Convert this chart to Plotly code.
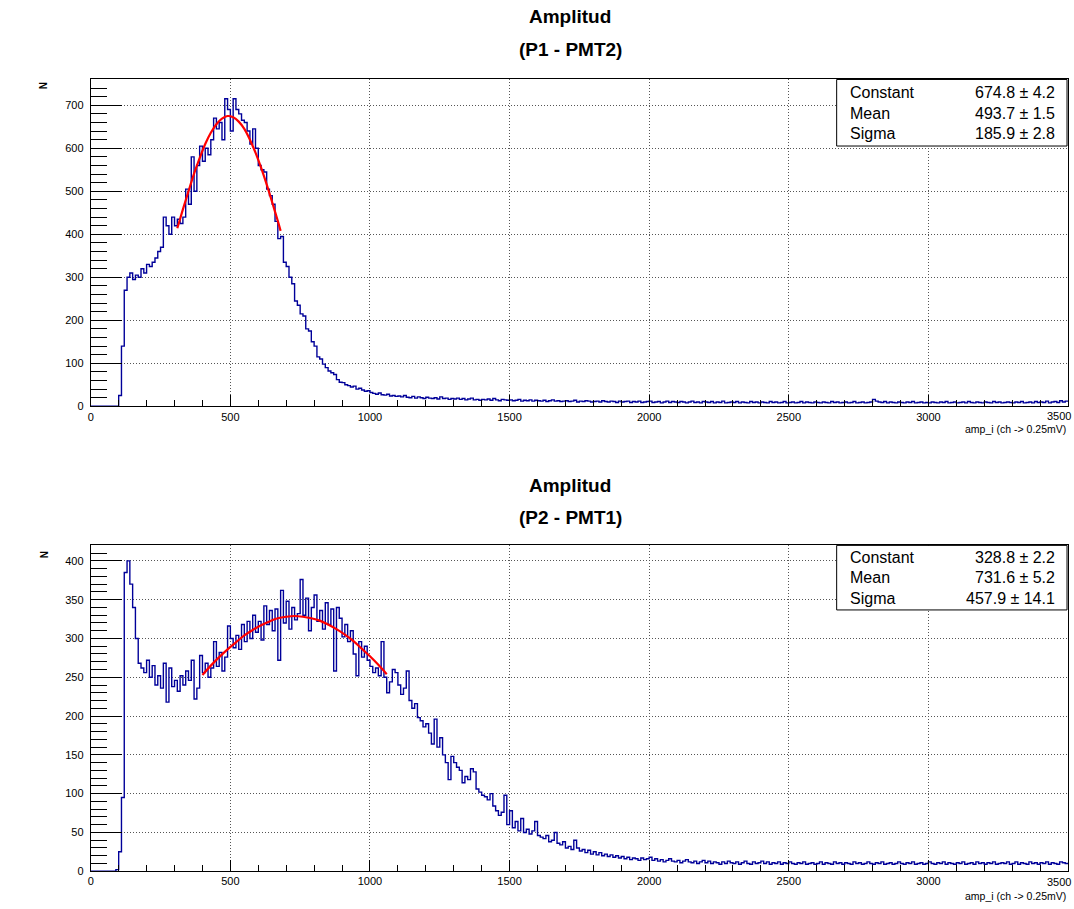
import numpy as np
import plotly.graph_objects as go

# ---------------- data ----------------
BIN_WIDTH = 10  # channels per bin, histograms start at channel 0

top_counts = [
    0, 0, 0, 0, 0, 0, 0, 0, 0, 0,
    25, 140, 270, 300, 310, 295, 305, 300, 320, 310,
    330, 325, 335, 345, 360, 370, 440, 420, 400, 440,
    420, 435, 425, 440, 505, 470, 580, 500, 560, 605,
    570, 600, 585, 620, 670, 645, 660, 620, 715, 690,
    640, 715, 690, 680, 665, 660, 640, 610, 645, 600,
    560, 550, 545, 505, 490, 470, 430, 390, 395, 335,
    325, 300, 285, 245, 235, 215, 210, 180, 175, 150,
    140, 115, 110, 98, 90, 82, 78, 74, 62, 56,
    55, 50, 48, 45, 47, 40, 42, 38, 35, 36,
    32, 30, 28, 31, 27, 26, 28, 24, 25, 23,
    24, 22, 25, 21, 20, 23, 19, 22, 20, 18,
    21, 19, 18, 20, 17, 22, 18, 19, 16, 18,
    17, 19, 16, 18, 15, 17, 19, 15, 16, 14,
    16, 15, 17, 14, 18, 15, 13, 16, 15, 14,
    15, 13, 14, 16, 12, 14, 13, 15, 12, 14,
    13, 12, 14, 11, 13, 15, 12, 13, 11, 12,
    13, 11, 12, 14, 10, 12, 11, 13, 12, 10,
    11, 12, 10, 13, 11, 10, 12, 11, 9, 12,
    10, 11, 12, 9, 11, 10, 12, 9, 10, 11,
    12, 9, 10, 11, 8, 10, 12, 9, 11, 10,
    9, 11, 10, 8, 10, 12, 9, 10, 8, 11,
    10, 9, 11, 8, 10, 9, 12, 8, 9, 10,
    9, 11, 8, 10, 9, 8, 11, 9, 10, 8,
    10, 9, 8, 11, 9, 10, 8, 9, 11, 8,
    9, 10, 8, 9, 11, 8, 10, 9, 8, 10,
    9, 8, 10, 9, 8, 11, 9, 10, 8, 9,
    10, 8, 9, 11, 8, 9, 10, 8, 9, 10,
    16, 12, 10, 9, 11, 8, 10, 9, 8, 10,
    9, 8, 10, 9, 11, 8, 9, 10, 8, 9,
    8, 10, 9, 8, 10, 9, 11, 8, 9, 10,
    8, 9, 10, 8, 11, 9, 8, 10, 9, 8,
    10, 9, 8, 11, 9, 10, 8, 9, 10, 9,
    8, 10, 9, 11, 8, 9, 10, 8, 11, 9,
    10, 9, 12, 8, 10, 11, 9, 13, 10, 12,
]

bottom_counts = [
    0, 0, 0, 0, 0, 0, 0, 0, 0, 2,
    25, 95, 385, 400, 370, 340, 300, 268, 262, 256,
    272, 250, 265, 240, 252, 236, 268, 218, 262, 238,
    246, 232, 252, 240, 258, 246, 272, 222, 236, 278,
    256, 268, 250, 262, 296, 264, 282, 258, 276, 316,
    300, 288, 304, 286, 318, 296, 322, 300, 330, 308,
    322, 298, 342, 318, 336, 310, 338, 272, 362, 320,
    348, 312, 340, 324, 332, 376, 330, 352, 310, 340,
    356, 322, 336, 312, 346, 318, 338, 258, 340, 326,
    302, 318, 296, 310, 280, 252, 296, 276, 290, 272,
    264, 256, 262, 252, 296, 250, 230, 244, 260, 256,
    240, 228, 236, 258, 220, 210, 216, 198, 194, 186,
    190, 178, 164, 196, 160, 172, 150, 140, 118, 148,
    140, 134, 130, 114, 122, 118, 132, 128, 106, 102,
    98, 96, 92, 100, 84, 78, 72, 76, 98, 60,
    78, 56, 64, 52, 68, 50, 54, 48, 52, 64,
    46, 44, 42, 46, 38, 40, 50, 36, 34, 38,
    30, 32, 28, 40, 30, 26, 28, 24, 27, 22,
    25, 21, 24, 20, 22, 19, 21, 18, 20, 17,
    19, 16, 18, 15, 17, 16, 14, 17, 15, 16,
    18, 14, 16, 13, 15, 12, 14, 16, 13, 12,
    14, 11, 13, 15, 12, 11, 13, 10, 12, 14,
    11, 13, 10, 12, 11, 9, 12, 10, 13, 11,
    10, 12, 9, 11, 13, 10, 9, 12, 10, 11,
    13, 10, 12, 9, 11, 10, 12, 9, 11, 10,
    12, 10, 9, 11, 10, 12, 9, 10, 11, 9,
    10, 12, 9, 11, 10, 9, 12, 10, 11, 9,
    11, 10, 9, 12, 10, 11, 9, 10, 12, 10,
    9, 11, 10, 12, 9, 10, 11, 9, 10, 12,
    10, 9, 11, 10, 12, 9, 10, 11, 9, 10,
    12, 10, 9, 11, 10, 12, 9, 11, 10, 9,
    11, 10, 12, 9, 10, 11, 9, 12, 10, 11,
    9, 11, 10, 12, 9, 10, 11, 10, 12, 9,
    10, 12, 9, 11, 10, 9, 12, 10, 11, 9,
    11, 10, 12, 9, 11, 10, 9, 12, 11, 10,
]

top_fit_x = [310, 330, 350, 370, 390, 410, 430, 450, 470, 490,
             510, 530, 550, 570, 590, 610, 630, 650, 670, 680]
top_fit_y = [414, 458, 500, 541, 577, 610, 636, 656, 669, 675,
             672, 662, 645, 620, 590, 555, 516, 474, 431, 408]

bot_fit_x = [400, 430, 460, 490, 520, 550, 580, 610, 640, 670, 700, 730,
             760, 790, 820, 850, 880, 910, 940, 970, 1000, 1030, 1060]
bot_fit_y = [253, 265, 276, 286, 295, 304, 311, 317, 322, 326, 328, 329,
             328, 326, 323, 318, 312, 305, 297, 287, 277, 266, 254]

x_ticks = [0, 500, 1000, 1500, 2000, 2500, 3000, 3500]

top_title = ["Amplitud", "(P1 - PMT2)"]
bot_title = ["Amplitud", "(P2 - PMT1)"]
x_title = "amp_i (ch -> 0.25mV)"
y_title = "N"

stats_labels = ["Constant", "Mean", "Sigma"]
top_stats = ["674.8 ± 4.2", "493.7 ± 1.5", "185.9 ± 2.8"]
bot_stats = ["328.8 ± 2.2", "731.6 ± 5.2", "457.9 ± 14.1"]

# ---------------- figure ----------------
W, H = 1074, 909
FONT = "Liberation Sans, Arial, Helvetica, sans-serif"
TITLE_FONT = "Liberation Sans, Arial, sans-serif"
HIST_COLOR = "rgb(0,0,153)"


def fx(p):
    return p / W


def fy(p):
    return 1 - p / H


def hist_xy(counts):
    edges = BIN_WIDTH * np.arange(len(counts) + 1)
    ys = list(counts) + [counts[-1]]
    return edges, ys


fig = go.Figure()

ex, ey = hist_xy(top_counts)
fig.add_trace(go.Scatter(x=ex, y=ey, mode="lines", line=dict(color=HIST_COLOR, width=1.4, shape="hv"),
                         xaxis="x", yaxis="y", showlegend=False, hoverinfo="skip"))
fig.add_trace(go.Scatter(x=top_fit_x, y=top_fit_y, mode="lines", line=dict(color="red", width=2.2, shape="spline"),
                         xaxis="x", yaxis="y", showlegend=False))

ex2, ey2 = hist_xy(bottom_counts)
fig.add_trace(go.Scatter(x=ex2, y=ey2, mode="lines", line=dict(color=HIST_COLOR, width=1.4, shape="hv"),
                         xaxis="x2", yaxis="y2", showlegend=False, hoverinfo="skip"))
fig.add_trace(go.Scatter(x=bot_fit_x, y=bot_fit_y, mode="lines", line=dict(color="red", width=2.2, shape="spline"),
                         xaxis="x2", yaxis="y2", showlegend=False))

common = dict(showline=True, linecolor="black", linewidth=1, mirror=True,
              ticks="inside", tickcolor="black", tickwidth=1,
              showgrid=True, gridcolor="#555555", griddash="1px,2px", gridwidth=1,
              zeroline=False, tickfont=dict(family=FONT, size=11, color="black"))

# last label (3500) is placed by hand, shifted left like in the reference
x_ticktext = [str(v) for v in x_ticks[:-1]] + [""]

xcommon = dict(common, range=[0, 3500], tickmode="array", tickvals=x_ticks,
               ticktext=x_ticktext, ticklen=11,
               minor=dict(dtick=100, tick0=0, ticklen=6, ticks="inside", tickcolor="black", showgrid=False))

fig.update_layout(
    width=W, height=H,
    margin=dict(l=0, r=0, t=0, b=0),
    paper_bgcolor="white", plot_bgcolor="white",
    xaxis=dict(xcommon, domain=[fx(88), fx(1068)], anchor="y"),
    yaxis=dict(common, domain=[fy(409), fy(80)], anchor="x", range=[0, 760], tick0=0, dtick=100,
               ticklen=31, ticklabelstandoff=4,
               minor=dict(dtick=20, ticklen=16, ticks="inside", tickcolor="black", showgrid=False)),
    xaxis2=dict(xcommon, domain=[fx(88), fx(1068)], anchor="y2"),
    yaxis2=dict(common, domain=[fy(877), fy(549)], anchor="x2", range=[0, 420], tick0=0, dtick=50,
                ticklen=31, ticklabelstandoff=4,
                minor=dict(dtick=10, ticklen=16, ticks="inside", tickcolor="black", showgrid=False)),
)

annotations = []
shapes = []


def add_titles(lines, y1, y2):
    for txt, yy in zip(lines, (y1, y2)):
        annotations.append(dict(text="<b>%s</b>" % txt, x=fx(569), y=fy(yy), xref="paper", yref="paper",
                                xanchor="center", yanchor="middle", showarrow=False,
                                font=dict(family=TITLE_FONT, size=19, color="black")))


def add_stats(values, top, bottom, rows):
    shapes.append(dict(type="rect", xref="paper", yref="paper", x0=fx(836), x1=fx(1067),
                       y0=fy(bottom), y1=fy(top), line=dict(color="black", width=1),
                       fillcolor="white", layer="above"))
    for lab, val, yy in zip(stats_labels, values, rows):
        annotations.append(dict(text=lab, x=fx(847), y=fy(yy), xref="paper", yref="paper",
                                xanchor="left", yanchor="middle", showarrow=False,
                                font=dict(family=FONT, size=16, color="black")))
        annotations.append(dict(text=val, x=fx(1057), y=fy(yy), xref="paper", yref="paper",
                                xanchor="right", yanchor="middle", showarrow=False,
                                font=dict(family=FONT, size=16, color="black")))


def add_axis_titles(xlab_y, ylab_y, tick_y):
    annotations.append(dict(text=x_title, x=fx(1068), y=fy(xlab_y), xref="paper", yref="paper",
                            xanchor="right", yanchor="middle", showarrow=False,
                            font=dict(family=FONT, size=10.5, color="black")))
    annotations.append(dict(text="<b>%s</b>" % y_title, x=fx(41), y=fy(ylab_y), xref="paper", yref="paper",
                            xanchor="center", yanchor="middle", showarrow=False, textangle=-90,
                            font=dict(family=FONT, size=10, color="black")))
    annotations.append(dict(text=str(x_ticks[-1]), x=fx(1073), y=fy(tick_y), xref="paper", yref="paper",
                            xanchor="right", yanchor="middle", showarrow=False,
                            font=dict(family=FONT, size=11, color="black")))


add_titles(top_title, 17, 50)
add_titles(bot_title, 489, 521)
add_stats(top_stats, 80, 147, [93, 114, 134])
add_stats(bot_stats, 549, 614, [561, 581, 602])
add_axis_titles(432, 86, 419)
add_axis_titles(902, 558, 888)

fig.update_layout(annotations=annotations, shapes=shapes)

fig.write_html("out.html")
